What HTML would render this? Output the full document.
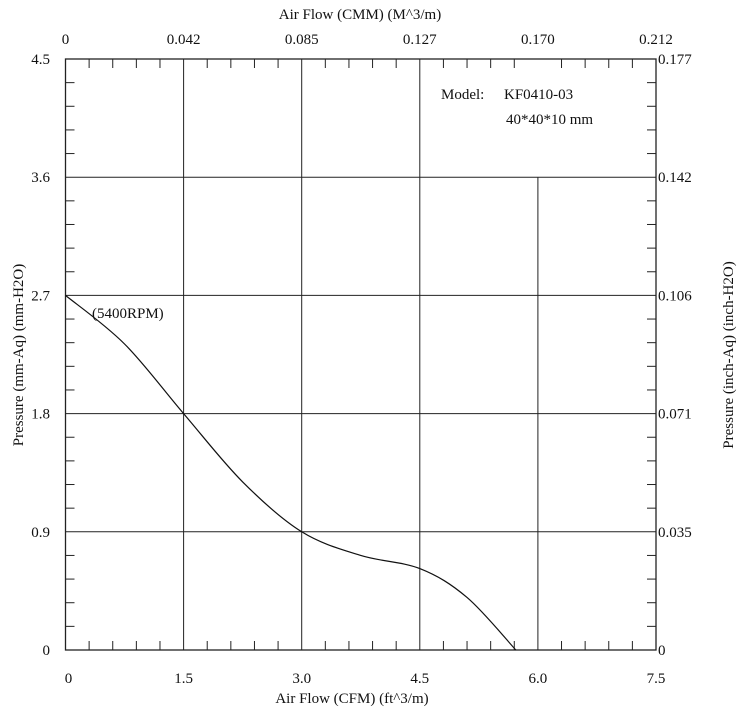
<!DOCTYPE html>
<html><head><meta charset="utf-8"><style>
body{margin:0;background:#fff}
text{font-family:"Liberation Serif",serif;font-size:15px;fill:#111}
</style></head><body>
<svg id="c" width="741" height="710"></svg>
<script>
const xTicks=[0,1.5,3.0,4.5,6.0,7.5];
const xTickLabels=["0","1.5","3.0","4.5","6.0","7.5"];
const topTickLabels=["0","0.042","0.085","0.127","0.170","0.212"];
const yTicks=[0,0.9,1.8,2.7,3.6,4.5];
const yTickLabels=["0","0.9","1.8","2.7","3.6","4.5"];
const rightTickLabels=["0","0.035","0.071","0.106","0.142","0.177"];
const curveX=[0,0.75,1.5,2.25,3.0,3.75,4.5,5.1,5.72];
const curveY=[2.7,2.33,1.8,1.28,0.9,0.72,0.62,0.4,0];
const L=65.5,R=656,T=59,B=650;
const sx=v=>L+(R-L)*v/7.5, sy=v=>B-(B-T)*v/4.5;
const svg=document.getElementById('c');const NS='http://www.w3.org/2000/svg';
function mk(t,a,p){const e=document.createElementNS(NS,t);for(const k in a)e.setAttribute(k,a[k]);(p||svg).appendChild(e);return e;}
function ln(x1,y1,x2,y2,n,w){const e=mk('line',{x1,y1,x2,y2,stroke:'#222','stroke-width':w||1});return e;}
function tx(x,y,s,anchor,n,extra){const e=mk('text',Object.assign({x,y,'text-anchor':anchor},extra||{}));e.textContent=s;return e;}
xTicks.slice(1,-1).forEach(v=>{const top=v===6.0?sy(3.6):T;ln(sx(v),top,sx(v),B,'x-grid-line');});
yTicks.slice(1,-1).forEach(v=>ln(L,sy(v),R,sy(v),'y-grid-line'));
for(let i=1;i<25;i++){if(i%5===0)continue;const x=sx(i*0.3);ln(x,B,x,B-9,'x-minor-tick');ln(x,T,x,T+9,'x-minor-tick-top');}
for(let i=1;i<25;i++){if(i%5===0)continue;const y=sy(i*0.18);ln(L,y,L+9,y,'y-minor-tick');ln(R,y,R-9,y,'y-minor-tick-right');}
const f=mk('rect',{x:L,y:T,width:R-L,height:B-T,fill:'none',stroke:'#222','stroke-width':1.3});

xTicks.forEach((v,i)=>{tx(sx(v)+(i===0?3:0),683,xTickLabels[i],'middle','x-tick-label');tx(sx(v),44,topTickLabels[i],'middle','top-tick-label');});
yTicks.forEach((v,i)=>{tx(50,sy(v)+5,yTickLabels[i],'end','y-tick-label');tx(R+2,sy(v)+5,rightTickLabels[i],'start','right-tick-label');});
tx(352,703,'Air Flow (CFM) (ft^3/m)','middle','x-axis-title');
tx(360,19,'Air Flow (CMM) (M^3/m)','middle','top-axis-title');
tx(0,0,'Pressure (mm-Aq) (mm-H2O)','middle','y-axis-title',{transform:'translate(23,355) rotate(-90)'});
tx(0,0,'Pressure (inch-Aq) (inch-H2O)','middle','right-axis-title',{transform:'translate(733,355) rotate(-90)'});
tx(441,99,'Model:','start','model-label',{'font-size':'16'});
tx(504,99,'KF0410-03','start','model-value',{'font-size':'16'});
tx(506,124,'40*40*10 mm','start','model-size',{'font-size':'16'});
tx(92,318,'(5400RPM)','start','curve-label');
const P=curveX.map((v,i)=>[sx(v),sy(curveY[i])]);
let d='M'+P[0][0]+','+P[0][1];
for(let i=0;i<P.length-1;i++){const p0=P[Math.max(0,i-1)],p1=P[i],p2=P[i+1],p3=P[Math.min(P.length-1,i+2)];
d+=` C${p1[0]+(p2[0]-p0[0])/6},${p1[1]+(p2[1]-p0[1])/6} ${p2[0]-(p3[0]-p1[0])/6},${p2[1]-(p3[1]-p1[1])/6} ${p2[0]},${p2[1]}`;}
const c=mk('path',{d,fill:'none',stroke:'#111','stroke-width':1.2});

</script>
</body></html>
